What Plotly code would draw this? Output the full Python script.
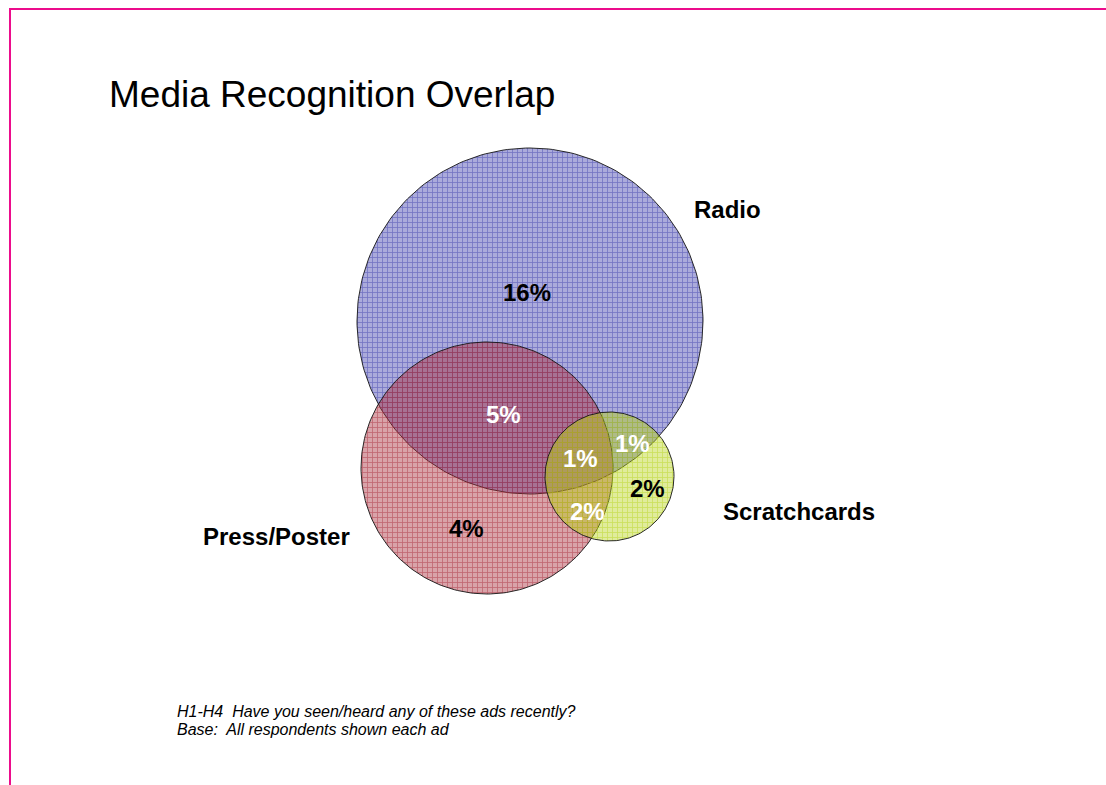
import numpy as np
import plotly.graph_objects as go

# Venn sets and region shares (%)
sets = ["Radio", "Press/Poster", "Scratchcards"]
region_names = ["Radio only", "Radio & Press/Poster", "Radio, Press/Poster & Scratchcards",
                "Radio & Scratchcards", "Scratchcards only", "Press/Poster & Scratchcards",
                "Press/Poster only"]
region_values = [16, 5, 1, 1, 2, 2, 4]

# Venn layout (canvas units, y grows downward)
circle_cx = [530, 487, 609.5]
circle_cy = [321, 468, 476.5]
circle_r = [173, 126, 64.5]
circle_base = [(55, 55, 170), (165, 35, 50), (180, 210, 20)]

region_lx = [527, 503, 580, 632, 647, 587, 466]
region_ly = [292, 414, 458, 443, 488, 511, 528]
region_color = ["black", "white", "white", "white", "black", "white", "black"]

set_lx = [727, 276, 799]
set_ly = [209, 536, 511]

W, H = 1106, 785
fig = go.Figure()

theta = np.linspace(0, 2 * np.pi, 241)
for name, cx, cy, r, c in zip(sets, circle_cx, circle_cy, circle_r, circle_base):
    fig.add_trace(go.Scatter(
        x=cx + r * np.cos(theta), y=cy + r * np.sin(theta),
        mode="lines", fill="toself", name=name, hoverinfo="name",
        line=dict(color="rgba(20,20,20,0.9)", width=1),
        fillcolor="rgba(%d,%d,%d,0.45)" % c,
        fillpattern=dict(shape="+", size=5, solidity=0.3,
                         bgcolor="rgba(%d,%d,%d,0.42)" % c,
                         fgcolor="rgba(%d,%d,%d,0.95)" % c),
    ))

annotations = []
for v, x, y, col in zip(region_values, region_lx, region_ly, region_color):
    annotations.append(dict(x=x, y=y, text="<b>%d%%</b>" % v, showarrow=False,
                            xanchor="center", yanchor="middle",
                            font=dict(family="Arial, Liberation Sans", size=24, color=col)))
for name, x, y in zip(sets, set_lx, set_ly):
    annotations.append(dict(x=x, y=y, text="<b>%s</b>" % name, showarrow=False,
                            xanchor="center", yanchor="middle",
                            font=dict(family="Arial, Liberation Sans", size=24, color="black")))

annotations.append(dict(x=107, y=94, text="Media Recognition Overlap", showarrow=False,
                        xanchor="left", yanchor="middle",
                        font=dict(family="Arial, Liberation Sans", size=37, color="black")))
annotations.append(dict(x=175, y=711, text="<i>H1-H4  Have you seen/heard any of these ads recently?</i>",
                        showarrow=False, xanchor="left", yanchor="middle",
                        font=dict(family="Arial, Liberation Sans", size=16, color="black")))
annotations.append(dict(x=175, y=729, text="<i>Base:  All respondents shown each ad</i>",
                        showarrow=False, xanchor="left", yanchor="middle",
                        font=dict(family="Arial, Liberation Sans", size=16, color="black")))

frame = "#EC0C8C"
shapes = [
    dict(type="line", x0=9, x1=W, y0=9, y1=9, line=dict(color=frame, width=2)),
    dict(type="line", x0=10, x1=10, y0=9, y1=H, line=dict(color=frame, width=2)),
]

fig.update_layout(
    width=W, height=H, margin=dict(l=0, r=0, t=0, b=0),
    paper_bgcolor="white", plot_bgcolor="white", showlegend=False,
    xaxis=dict(range=[0, W], visible=False, fixedrange=True),
    yaxis=dict(range=[H, 0], visible=False, fixedrange=True),
    annotations=annotations, shapes=shapes,
)

fig.write_html("out.html")
